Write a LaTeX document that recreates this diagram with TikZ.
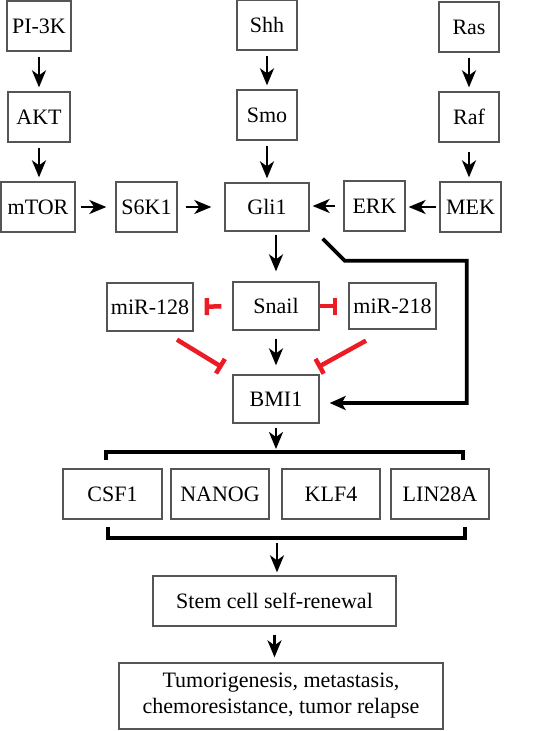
\documentclass[tikz,border=0pt]{standalone}
\usepackage{fontspec}
\setmainfont{Liberation Serif}
\usepackage{xcolor}
\usepackage{tikz}
\usetikzlibrary{arrows.meta}
\usetikzlibrary{calc}
\definecolor{inhib_red}{RGB}{236,28,36}
\definecolor{box_gray}{RGB}{85,85,85}
\tikzset{ gene_box/.style = {rectangle, draw=box_gray, line width=1.3pt, inner sep=0pt, align=center, font=\fontsize{22}{26}\selectfont} }
\tikzset{ act/.style = {line width=2.6pt, -{Stealth[length=17pt,width=14pt,inset=5pt]}, shorten <=5pt, shorten >=4pt} }
\tikzset{ inhib/.style = {draw=inhib_red, line width=4.5pt, -{Bar[width=17pt]}} }
\tikzset{ brace_line/.style = {line width=4pt} }

\begin{document}
\begin{tikzpicture}[x=1pt,y=-1pt]
                        \useasboundingbox (0,0) rectangle (540,731);
                        % upstream pathways
                        \node[gene_box, minimum width=64pt, minimum height=50pt] (pi3k) at (39, 26) {PI-3K};
                        \node[gene_box, minimum width=62pt, minimum height=50pt] (akt) at (39, 117) {AKT};
                        \node[gene_box, minimum width=74pt, minimum height=50pt] (mtor) at (38, 207) {mTOR};
                        \node[gene_box, minimum width=61pt, minimum height=50pt] (s6k1) at (146.5, 207) {S6K1};
                        \node[gene_box, minimum width=60pt, minimum height=50pt] (shh) at (267, 25) {Shh};
                        \node[gene_box, minimum width=60pt, minimum height=50pt] (smo) at (267, 115) {Smo};
                        \node[gene_box, minimum width=84pt, minimum height=48pt] (gli1) at (267, 207) {Gli1};
                        \node[gene_box, minimum width=60pt, minimum height=50pt] (ras) at (469, 27) {Ras};
                        \node[gene_box, minimum width=60pt, minimum height=50pt] (raf) at (469, 117) {Raf};
                        \node[gene_box, minimum width=61pt, minimum height=50pt] (mek) at (470.5, 207) {MEK};
                        \node[gene_box, minimum width=61pt, minimum height=50pt] (erk) at (374.5, 206) {ERK};
                        % middle part
                        \node[gene_box, minimum width=86pt, minimum height=48pt] (mir128) at (150, 307) {miR-128};
                        \node[gene_box, minimum width=86pt, minimum height=48pt] (snail) at (276, 306) {Snail};
                        \node[gene_box, minimum width=87pt, minimum height=46pt] (mir218) at (392.5, 306) {miR-218};
                        \node[gene_box, minimum width=86pt, minimum height=48pt] (bmi1) at (276, 399) {BMI1};
                        % targets
                        \node[gene_box, minimum width=99pt, minimum height=50pt] (csf1) at (112.5, 494) {CSF1};
                        \node[gene_box, minimum width=98pt, minimum height=50pt] (nanog) at (220, 494) {NANOG};
                        \node[gene_box, minimum width=98pt, minimum height=50pt] (klf4) at (331, 494) {KLF4};
                        \node[gene_box, minimum width=98pt, minimum height=50pt] (lin28a) at (440, 494) {LIN28A};
                        \node[gene_box, minimum width=243pt, minimum height=50pt] (stem) at (274.5, 601) {Stem cell self-renewal};
                        \node[gene_box, minimum width=324pt, minimum height=66pt] (tumor) at (281, 696) {Tumorigenesis, metastasis,\\chemoresistance, tumor relapse};
                        \coordinate (brtop) at (276, 452);
                        \coordinate (brbot) at (277, 538);
                        \draw[act] (pi3k) to (akt);
                        \draw[act] (akt) to (akt |- mtor.north);
                        \draw[act] (shh) to (smo);
                        \draw[act] (smo) to (gli1);
                        \draw[act] (ras) to (raf);
                        \draw[act, shorten <=9pt] (raf) to (raf |- mek.north);
                        \draw[act, shorten >=9pt] (mtor) to (s6k1);
                        \draw[act, shorten <=8pt, shorten >=13pt] (s6k1) to (gli1);
                        \draw[act, shorten <=3pt, shorten >=3pt] (mek) to (mek.west -| erk.east);
                        \draw[act, shorten <=8pt, shorten >=3pt] (erk) to (erk.west -| gli1.east);
                        \draw[act, shorten <=3pt, shorten >=10pt] (gli1.south -| snail) to (snail);
                        \draw[act, shorten <=8pt, shorten >=9pt] (snail) to (bmi1);
                        \draw[inhib, shorten <=11pt, shorten >=11pt] (snail) to (mir128);
                        \draw[inhib, shorten >=11pt] (snail) to (snail -| mir218.west);
                        \draw[inhib] ($(mir128.south)+(27,8)$) to ($(bmi1.north west)+(-10,-7)$);
                        \draw[inhib] ($(mir218.south)+(-26.5,11)$) to ($(bmi1.north east)+(-2,-7)$);
                        \draw[line width=3.8pt, -{Stealth[length=16pt,width=14pt,inset=4pt]}] ($(gli1.south east)+(13,7)$) -- ++(22,22) -- ++(122,0) |- ($(bmi1.east)+(10,4)$);
                        \draw[act, shorten <=4pt, shorten >=3pt] (bmi1) to (brtop);
                        \draw[brace_line] (106, 460) |- (brtop) -| (463, 460);
                        \draw[brace_line] (108, 527) |- (brbot) -| (465, 527);
                        \draw[act, shorten <=5pt, shorten >=3pt] (brbot) to (brbot |- stem.north);
                        \draw[act, shorten <=8pt, shorten >=5pt] (stem) to (stem.south |- tumor.north);
                \end{tikzpicture}
\end{document}
